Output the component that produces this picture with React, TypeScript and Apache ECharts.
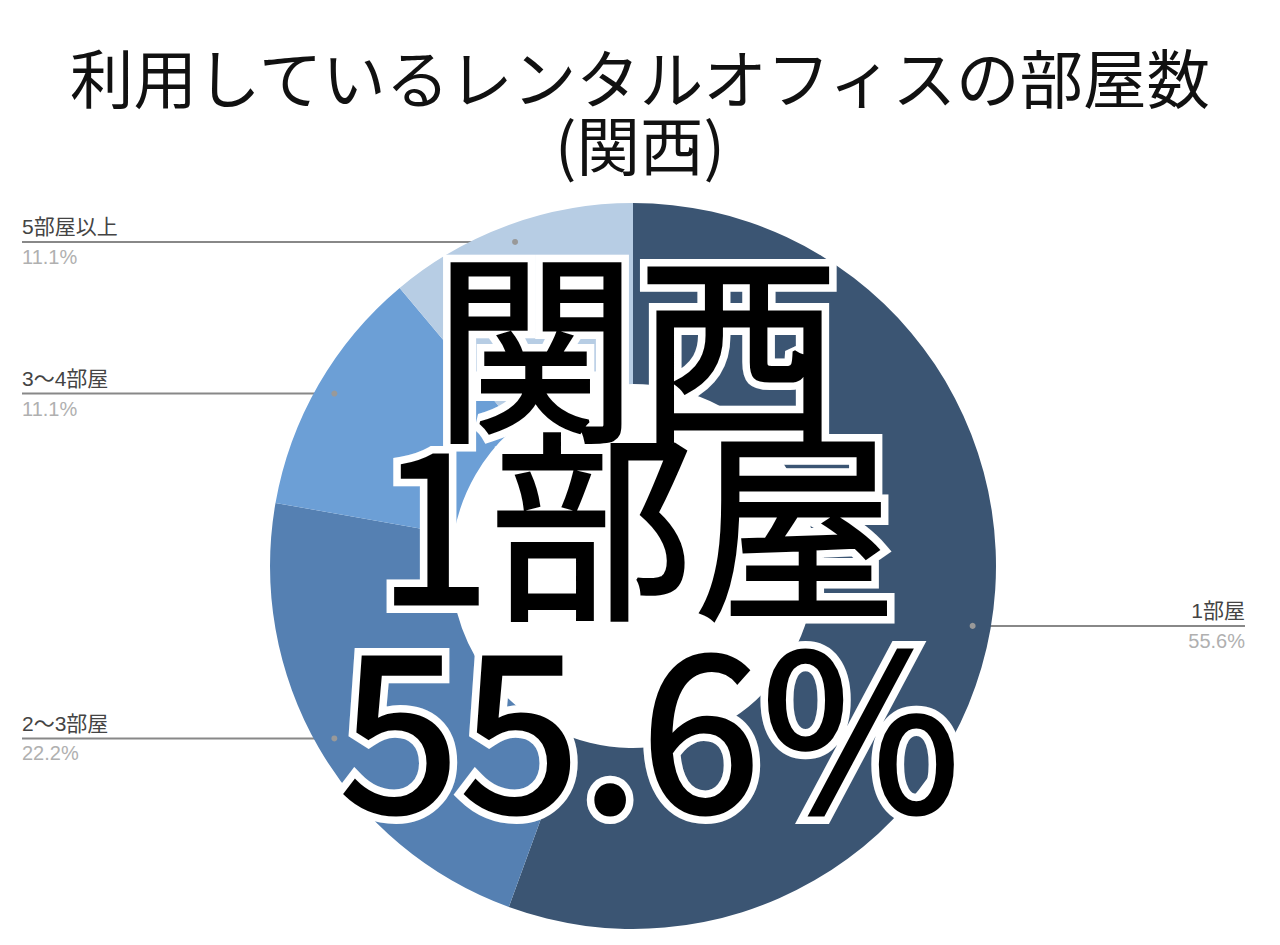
import React, { useEffect, useRef } from 'react';
import * as echarts from 'echarts';

const titleLines = ['利用しているレンタルオフィスの部屋数', '(関西)'];
const categories = ['1部屋', '2〜3部屋', '3〜4部屋', '5部屋以上'];
const values = [5, 2, 1, 1];
const colors = ['#3b5573', '#5580b2', '#6c9fd6', '#b7cde4'];
const overlayLines = ['関西', '1部屋', '55.6%'];

const CX = 633;
const CY = 566;
const R_IN = 182;
const R_OUT = 363;
const LEFT_EDGE = 22;
const RIGHT_EDGE = 1245;

function dotPositions(): number[][] {
  const total = values.reduce((a, b) => a + b, 0);
  let cum = 0;
  return values.map((v) => {
    const mid = ((cum + v / 2) / total) * Math.PI * 2;
    cum += v;
    const r = R_OUT * 0.95;
    return [CX + r * Math.sin(mid), CY - r * Math.cos(mid)];
  });
}

export default function App() {
  const ref = useRef<HTMLDivElement>(null);
  useEffect(() => {
    if (!ref.current) return;
    const chart = echarts.init(ref.current, null, { renderer: 'svg' });
    const dots = dotPositions();
    const bigFont = '"Noto Sans CJK JP", "Noto Sans", sans-serif';
    const overlayY = [337, 515, 717];
    const overlayX = [637, 637, 650];
    const overlaySize = [203, 203, 217];
    const labelFont = '"Liberation Sans", Arial, "Noto Sans CJK JP", sans-serif';
    const overlay: any[] = [];
    // white halo layer first, then black fill layer on top
    overlayLines.forEach((t, i) => {
      overlay.push({
        type: 'text',
        z: 20,
        silent: true,
        x: overlayX[i],
        y: overlayY[i],
        style: {
          text: t,
          font: `normal ${overlaySize[i]}px ${bigFont}`,
          fill: '#ffffff',
          stroke: '#ffffff',
          lineWidth: 18,
          lineJoin: 'round',
          align: 'center',
          verticalAlign: 'middle',
        },
      });
    });
    overlayLines.forEach((t, i) => {
      overlay.push({
        type: 'text',
        z: 21,
        silent: true,
        x: overlayX[i],
        y: overlayY[i],
        style: {
          text: t,
          font: `normal ${overlaySize[i]}px ${bigFont}`,
          fill: '#000000',
          stroke: '#000000',
          lineWidth: 3,
          lineJoin: 'round',
          align: 'center',
          verticalAlign: 'middle',
        },
      });
    });
    chart.setOption({
      animation: false,
      backgroundColor: '#ffffff',
      title: {
        text: titleLines.join('\n'),
        left: 'center',
        top: 36,
        textStyle: {
          fontSize: 63.5,
          lineHeight: 67,
          fontWeight: 'normal',
          color: '#111111',
          fontFamily: '"Noto Sans CJK JP", sans-serif',
        },
      },
      series: [
        {
          type: 'pie',
          center: [CX, CY],
          radius: [R_IN, R_OUT],
          startAngle: 90,
          clockwise: true,
          avoidLabelOverlap: false,
          percentPrecision: 1,
          emphasis: { disabled: true },
          data: categories.map((name, i) => ({
            name,
            value: values[i],
            itemStyle: { color: colors[i] },
          })),
          label: {
            show: true,
            position: 'outside',
            formatter: '{n|{b}}\n{p|{d}%}',
            rich: {
              n: {
                fontSize: 21,
                lineHeight: 30,
                color: '#444444',
                fontFamily: labelFont,
              },
              p: {
                fontSize: 20,
                lineHeight: 30,
                color: '#b0b0b0',
                fontFamily: labelFont,
              },
            },
          },
          labelLine: {
            show: true,
            length: 5,
            length2: 5,
            lineStyle: { color: '#888888', width: 2 },
          },
          labelLayout: (params: any) => {
            const d = dots[params.dataIndex];
            const isRight = d[0] > CX;
            const ex = isRight ? RIGHT_EDGE : LEFT_EDGE;
            return {
              x: ex,
              y: d[1],
              align: isRight ? 'right' : 'left',
              verticalAlign: 'middle',
              labelLinePoints: [
                [d[0], d[1]],
                [d[0], d[1]],
                [ex, d[1]],
              ],
            };
          },
        },
      ],
      graphic: [
        ...dots.map((d) => ({
          type: 'circle',
          z: 5,
          shape: { cx: d[0], cy: d[1], r: 3 },
          style: { fill: '#999999' },
        })),
        ...overlay,
      ],
    });
    return () => chart.dispose();
  }, []);
  return (
    <div
      ref={ref}
      style={{ position: 'absolute', left: 0, top: 0, width: 1280, height: 945 }}
    />
  );
}
